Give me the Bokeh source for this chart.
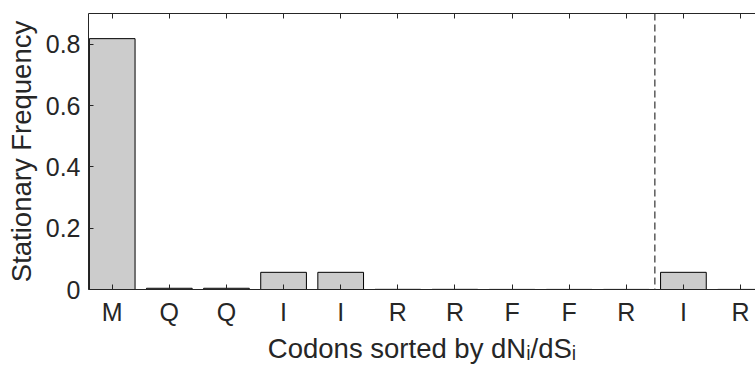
from bokeh.plotting import figure
from bokeh.models import FixedTicker, LinearAxis, Span, Range1d
from bokeh.embed import file_html
from bokeh.resources import INLINE

codons = ["M", "Q", "Q", "I", "I", "R", "R", "F", "F", "R", "I", "R"]
positions = [1, 2, 3, 4, 5, 6, 7, 8, 9, 10, 11, 12]
freqs = [0.818, 0.004, 0.004, 0.056, 0.056, 0.0005, 0.0005, 0.0003, 0.0003, 0.0003, 0.056, 0.0003]
y_ticks = [0, 0.2, 0.4, 0.6, 0.8]
y_tick_labels = ["0", "0.2", "0.4", "0.6", "0.8"]
divider = 10.5

FONT = "Liberation Sans"
TXT = "#262626"

p = figure(width=755, height=371, output_backend="svg", toolbar_location=None,
           x_range=Range1d(0.585, 12.262), y_range=Range1d(0, 0.9),
           min_border_left=88, min_border_right=0, min_border_top=13, min_border_bottom=82,
           x_axis_location=None, y_axis_location=None)
p.outline_line_color = None
p.grid.visible = False
p.background_fill_color = "white"
p.border_fill_color = "white"

p.vbar(x=positions, top=freqs, bottom=0, width=0.8,
       fill_color="#cccccc", line_color="#000000", line_width=1)

p.add_layout(Span(location=divider, dimension="height", line_color="#404040",
                  line_dash="7 4", line_width=1.3))

def style(ax):
    ax.axis_line_color = TXT
    ax.axis_line_width = 1
    ax.major_tick_line_color = TXT
    ax.major_tick_in = 5
    ax.major_tick_out = 0
    ax.minor_tick_line_color = None
    ax.major_label_text_font = FONT
    ax.major_label_text_font_size = "25px"
    ax.major_label_text_color = TXT
    ax.axis_label_text_font = FONT
    ax.axis_label_text_font_size = "27.5px"
    ax.axis_label_text_color = TXT
    ax.axis_label_text_font_style = "normal"

xb = LinearAxis(ticker=FixedTicker(ticks=positions),
                major_label_overrides={pos: c for pos, c in zip(positions, codons)},
                axis_label="Codons sorted by dNᵢ/dSᵢ")
style(xb)
xb.major_label_standoff = 8
xb.axis_label_standoff = 4
p.add_layout(xb, "below")

xt = LinearAxis(ticker=FixedTicker(ticks=positions),
                major_label_overrides={pos: "" for pos in positions})
style(xt)
xt.major_label_standoff = 0
p.add_layout(xt, "above")

yl = LinearAxis(ticker=FixedTicker(ticks=y_ticks),
                major_label_overrides={t: s for t, s in zip(y_ticks, y_tick_labels)},
                axis_label="Stationary Frequency")
style(yl)
yl.major_label_standoff = 8
yl.axis_label_standoff = 6
p.add_layout(yl, "left")

open("out.html", "w").write(file_html(p, INLINE))
